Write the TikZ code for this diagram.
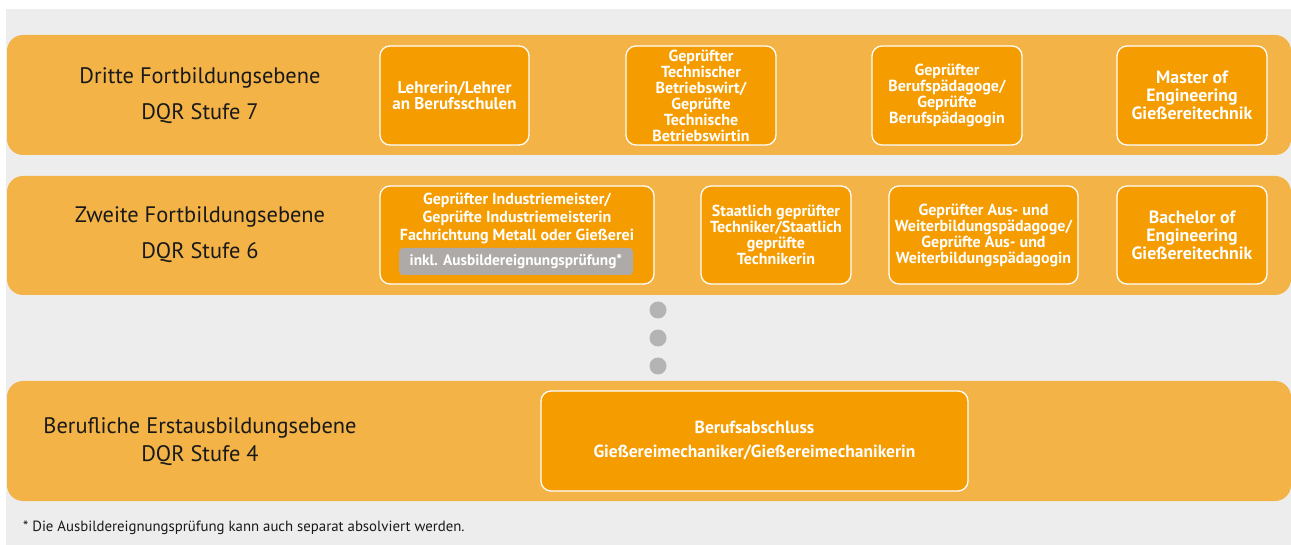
\documentclass[tikz,border=0pt]{standalone}
\usepackage{fontspec}
\setmainfont{PT Sans}
\definecolor{bgc}{HTML}{EDEDED}
\definecolor{bandc}{HTML}{F3B347}
\definecolor{boxc}{HTML}{F59C00}
\definecolor{insetc}{HTML}{AEAAA8}
\definecolor{dotc}{HTML}{B4B4B4}
\begin{document}
\begin{tikzpicture}[x=1pt,y=-1pt]
\tikzset{
  bandshape/.style={fill=bandc, rounded corners=16pt},
  qbox/.style={rectangle, rounded corners=10pt, fill=boxc, draw=white, line width=1.3pt,
    align=center, text=white, font=\fontsize{16}{16}\selectfont\bfseries, inner sep=2pt},
  bigbox/.style={qbox, font=\fontsize{17.8}{18}\selectfont\bfseries},
  boxtext/.style={align=center, text=white, font=\fontsize{16}{17.8}\selectfont\bfseries, inner sep=0pt},
  levellabel/.style={align=center, font=\fontsize{22.4}{36}\selectfont, text=black!90},
  inset/.style={rectangle, rounded corners=4pt, fill=insetc, text=white,
    font=\fontsize{15.3}{17}\selectfont\bfseries, inner sep=0pt},
  dotshape/.style={circle, fill=dotc, minimum size=17pt, inner sep=0pt},
}
\useasboundingbox (0,0) rectangle (1291,545);
\fill[white] (0,0) rectangle (1291,545);
\fill[bgc] (6,9) rectangle (1291,545);
% bands
\fill[bandshape] (7,35) rectangle (1291,155);
\fill[bandshape] (7,176) rectangle (1291,295);
\fill[bandshape] (7,381) rectangle (1291,501);
% level labels
\node[levellabel] (l7) at (200,96) {Dritte Fortbildungsebene\\DQR Stufe 7};
\node[levellabel] (l6) at (200,235) {Zweite Fortbildungsebene\\DQR Stufe 6};
\node[levellabel, font=\fontsize{22.4}{28}\selectfont] (l4) at (200,442) {Berufliche Erstausbildungsebene\\DQR Stufe 4};
% level 7 boxes
\node[qbox, minimum width=149pt, minimum height=99pt, font=\fontsize{17}{16.5}\selectfont\bfseries] (a1) at (454.5,95.5) {Lehrerin/Lehrer\\an Berufsschulen};
\node[qbox, minimum width=150pt, minimum height=99pt] (a2) at (701,95.5) {Geprüfter\\Technischer\\Betriebswirt/\\Geprüfte\\Technische\\Betriebswirtin};
\node[qbox, minimum width=150pt, minimum height=99pt] (a3) at (947,95.5) {Geprüfter\\Berufspädagoge/\\Geprüfte\\Berufspädagogin};
\node[bigbox, minimum width=150pt, minimum height=99pt] (a4) at (1192,95.5) {Master of\\Engineering\\Gießereitechnik};
% level 6 boxes
\node[qbox, minimum width=274pt, minimum height=98pt] (b1) at (517,235) {};
\node[boxtext] (b1t) at (517,218.5) {Geprüfter Industriemeister/\\Geprüfte Industriemeisterin\\Fachrichtung Metall oder Gießerei};
\node[inset, minimum width=234pt, minimum height=27pt] (b1i) at (516,261.5) {inkl. Ausbildereignungsprüfung*};
\node[qbox, minimum width=150pt, minimum height=98pt] (b2) at (776,235) {Staatlich geprüfter\\Techniker/Staatlich\\geprüfte\\Technikerin};
\node[qbox, minimum width=189pt, minimum height=98pt] (b3) at (983.5,235) {Geprüfter Aus- und\\Weiterbildungspädagoge/\\Geprüfte Aus- und\\Weiterbildungspädagogin};
\node[bigbox, minimum width=150pt, minimum height=98pt] (b4) at (1192,235) {Bachelor of\\Engineering\\Gießereitechnik};
% dots
\node[dotshape] (d1) at (658,310) {};
\node[dotshape] (d2) at (658,338) {};
\node[dotshape] (d3) at (658,366) {};
% level 4 box
\node[qbox, minimum width=427pt, minimum height=100pt, font=\fontsize{17.5}{24}\selectfont\bfseries] (c1) at (754.5,441) {Berufsabschluss\\Gießereimechaniker/Gießereimechanikerin};
% footnote
\node[anchor=west, font=\fontsize{14.8}{16}\selectfont, text=black!90, inner sep=0pt] (fn) at (23,528) {* Die Ausbildereignungsprüfung kann auch separat absolviert werden.};
\end{tikzpicture}
\end{document}
